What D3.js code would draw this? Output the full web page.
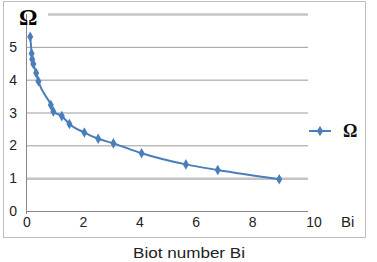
<!DOCTYPE html>
<html>
<head>
<meta charset="utf-8">
<script src="https://cdn.jsdelivr.net/npm/d3@7"></script>
<style>
  body { margin: 0; background: #fff; }
  svg { display: block; }
</style>
</head>
<body>
<div id="chart"></div>
<script>
// values
var biot = [0.15, 0.2, 0.22, 0.26, 0.36, 0.44, 0.88, 0.97, 1.27, 1.54, 2.07, 2.56, 3.1, 4.1, 5.67, 6.8, 8.98];
var omega = [5.31, 4.8, 4.62, 4.48, 4.2, 3.95, 3.23, 3.03, 2.89, 2.65, 2.39, 2.2, 2.06, 1.76, 1.42, 1.25, 0.97];
var xTicks = [0, 2, 4, 6, 8, 10];
var yTicks = [0, 1, 2, 3, 4, 5];
var yGrid = [1, 2, 3, 4, 5, 6];

var width = 377, height = 262;
var blue = '#4a7ebb';
var sans = 'Liberation Sans, Arial, sans-serif';
var serif = 'Liberation Serif, Times New Roman, serif';

var svg = d3.select('#chart').append('svg')
  .attr('width', width)
  .attr('height', height);

// chart frame
svg.append('rect')
  .attr('x', 3.5).attr('y', 1.5)
  .attr('width', 362).attr('height', 236)
  .attr('fill', '#fff')
  .attr('stroke', '#bdbdbd');

var x = d3.scaleLinear().domain([0, 10]).range([26, 308]);
var y = d3.scaleLinear().domain([0, 6]).range([211, 14]);

// gridlines
svg.append('g').selectAll('line')
  .data(yGrid)
  .enter().append('line')
  .attr('x1', function(d) { return d === 6 ? 48 : x(0); })
  .attr('x2', x(10))
  .attr('y1', function(d) { return y(d) + 0.5; })
  .attr('y2', function(d) { return y(d) + 0.5; })
  .attr('stroke', function(d) { return d === 1 || d === 6 ? '#c4c4c4' : '#9a9a9a'; })
  .attr('stroke-width', function(d) { return d === 1 || d === 6 ? 2.5 : 1; });

// axes lines
svg.append('line')
  .attr('x1', x(0)).attr('x2', x(10))
  .attr('y1', y(0) + 0.5).attr('y2', y(0) + 0.5)
  .attr('stroke', '#888');
svg.append('line')
  .attr('x1', x(0) + 0.5).attr('x2', x(0) + 0.5)
  .attr('y1', y(6)).attr('y2', y(0) + 3)
  .attr('stroke', '#888');

// tick labels
svg.append('g').selectAll('text')
  .data(xTicks)
  .enter().append('text')
  .attr('x', function(d) { return x(d) + (d === 10 ? 6 : 1); })
  .attr('y', 227)
  .attr('text-anchor', 'middle')
  .attr('font-family', sans)
  .attr('font-size', 14)
  .attr('fill', '#222')
  .text(function(d) { return d; });

svg.append('g').selectAll('text')
  .data(yTicks)
  .enter().append('text')
  .attr('x', 17)
  .attr('y', function(d) { return y(d) + 5; })
  .attr('text-anchor', 'end')
  .attr('font-family', sans)
  .attr('font-size', 14)
  .attr('fill', '#222')
  .text(function(d) { return d; });

// axis titles
svg.append('text')
  .attr('x', 341).attr('y', 227)
  .attr('font-family', sans)
  .attr('font-size', 15)
  .attr('fill', '#222')
  .text('Bi');

svg.append('text')
  .attr('x', 133).attr('y', 258)
  .attr('font-family', sans)
  .attr('font-size', 15)
  .attr('textLength', 112)
  .attr('lengthAdjust', 'spacingAndGlyphs')
  .attr('fill', '#222')
  .text('Biot number Bi');

svg.append('text')
  .attr('x', 19).attr('y', 25)
  .attr('font-family', serif)
  .attr('font-size', 23)
  .attr('font-weight', 'bold')
  .attr('fill', '#000')
  .text('Ω');

// series line
var pts = biot.map(function(b, i) { return [b, omega[i]]; });
var line = d3.line()
  .x(function(d) { return x(d[0]); })
  .y(function(d) { return y(d[1]); })
  .curve(d3.curveMonotoneX);

svg.append('path')
  .datum(pts)
  .attr('d', line)
  .attr('fill', 'none')
  .attr('stroke', blue)
  .attr('stroke-width', 2);

var diamond = d3.symbol().type(d3.symbolDiamond).size(32);
svg.append('g').selectAll('path')
  .data(pts)
  .enter().append('path')
  .attr('d', diamond)
  .attr('transform', function(d) { return 'translate(' + x(d[0]) + ',' + y(d[1]) + ')'; })
  .attr('fill', blue);

// legend
var lg = svg.append('g').attr('transform', 'translate(309,131)');
lg.append('line')
  .attr('x1', 0).attr('x2', 22)
  .attr('stroke', blue).attr('stroke-width', 2);
lg.append('path')
  .attr('d', diamond)
  .attr('transform', 'translate(11,0)')
  .attr('fill', blue);
lg.append('text')
  .attr('x', 34).attr('y', 6)
  .attr('font-family', serif)
  .attr('font-size', 18)
  .attr('font-weight', 'bold')
  .attr('fill', '#111')
  .text('Ω');
</script>
</body>
</html>
